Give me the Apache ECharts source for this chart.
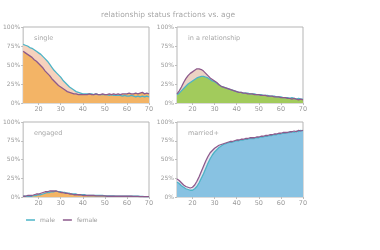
<!DOCTYPE html>
<html><head><meta charset="utf-8">
<script src="https://cdn.jsdelivr.net/npm/echarts@6/dist/echarts.min.js"></script>
<style>html,body{margin:0;padding:0;background:#fff}#c{width:380px;height:250px}</style>
</head><body><div id="c"></div>
<script>
const ages = [13,14,15,16,17,18,19,20,21,22,23,24,25,26,27,28,29,30,31,32,33,34,35,36,37,38,39,40,41,42,43,44,45,46,47,48,49,50,51,52,53,54,55,56,57,58,59,60,61,62,63,64,65,66,67,68,69,70];
const xTicks = [20,30,40,50,60,70];
const yTickLabels = ['0%','25%','50%','75%','100%'];
const panelTitles = ['single','in a relationship','engaged','married+'];

const singleMale   = [77,76,75,73,72,70,68,66,64,61,58,55,51,47,43,40,37,34,30,27,24,21,19,17,15,14,13,12,12,12,12,12,11,12,11,11,11,11,11,10,11,10,10,10,10,9,10,9,9,10,9,8,9,8,9,8,9,8];
const singleFemale = [68,66,64,62,60,57,55,52,49,46,42,39,36,32,29,26,23,21,19,17,15,14,13,12,12,11,11,11,11,11,12,11,11,12,11,11,12,11,11,12,11,12,11,12,11,12,12,12,13,12,12,13,12,13,14,12,13,12];
const relMale      = [11,13,16,19,22,25,27,29,31,33,34,35,35,34,33,31,29,28,26,24,22,21,20,19,18,17,16,15,14,14,13,13,13,12,12,12,11,11,11,10,10,10,9,9,9,8,8,8,7,7,7,6,7,6,5,6,5,5];
const relFemale    = [12,16,21,27,32,36,39,41,43,45,45,44,42,39,36,33,31,29,27,24,22,21,20,19,18,17,16,15,14,14,13,13,12,12,12,11,11,11,10,10,10,9,9,9,8,8,8,7,7,7,6,6,5,6,5,4,5,4];
const engMale      = [1,1,1,1,1,2,2,3,3,4,5,6,6,7,7,8,7,7,6,6,5,5,4,4,4,3,3,3,3,2,2,2,2,2,2,2,2,1.5,1.5,1.5,1.5,1.5,1,1,1,1,1,1,1,1,1,1,1,0.8,0.8,0.6,0.6,0.5];
const engFemale    = [1,1,2,2,2,3,4,4,5,6,7,7,8,8,8,8,7,6,6,5,5,4,4,3,3,3,3,2,2,2,2,2,2,1.5,1.5,1.5,1.5,1.5,1,1,1,1,1,1,1,1,1,1,1,1,0.8,0.8,0.8,0.6,0.6,0.5,0.5,0.5];
const marMale      = [20,18,15,13,11,10,9,9,11,14,19,25,31,38,45,51,56,60,63,66,68,70,71,72,73,73,74,75,75,76,76,77,77,78,78,78,79,79,80,80,81,81,82,82,83,83,84,84,85,85,86,86,87,86,88,87,89,88];
const marFemale    = [24,22,19,16,14,13,12,13,16,21,27,34,41,48,54,59,62,65,67,69,70,71,72,73,74,74,75,76,76,77,77,78,78,79,79,79,80,80,81,81,82,82,83,83,84,84,85,85,86,86,86,87,87,88,87,89,88,89];

const maleColor = '#4cb4c7';
const femaleColor = '#8d5a8c';
const fills = ['#f3b466','#a2cb5c','#f3b466','#88c2e2'];
const bandColors = ['#f6d2bd','#ecd3c4','#f6d2bd','#e8e4ee'];
const panels = [[singleMale,singleFemale],[relMale,relFemale],[engMale,engFemale],[marMale,marFemale]];
// which series (0 male, 1 female) is the upper curve in each panel
const upperIdx = [0,1,1,1];

const grids = [
  {left:23, top:27, width:126, height:76},
  {left:177, top:27, width:126, height:76},
  {left:23, top:122, width:126, height:75},
  {left:177, top:122, width:126, height:75}
];
const txt = '#9a9a9a';
const xAxis = [], yAxis = [], series = [], titles = [];
titles.push({text:'relationship status fractions vs. age', left:163, top:6, textAlign:'center',
  textStyle:{color:'#a8a8a8', fontSize:7.5, fontWeight:'normal', fontFamily:'DejaVu Sans'}});
grids.forEach((g,i)=>{
  g.show = true; g.borderColor = '#b5b5b5'; g.borderWidth = 1; g.backgroundColor = '#fff';
  xAxis.push({type:'value', gridIndex:i, min:13, max:70,
    axisLine:{show:false}, splitLine:{show:false},
    axisTick:{show:true, length:2, lineStyle:{color:'#bbb'}, customValues:xTicks},
    axisLabel:{color:txt, fontSize:6.5, margin:3, customValues:xTicks, fontFamily:'DejaVu Sans'}});
  yAxis.push({type:'value', gridIndex:i, min:0, max:100, interval:25,
    axisLine:{show:false}, splitLine:{show:false},
    axisTick:{show:true, length:2, lineStyle:{color:'#bbb'}},
    axisLabel:{color:txt, fontSize:6, margin:3, fontFamily:'DejaVu Sans',
      formatter:v=>yTickLabels[Math.round(v/25)]}});
  titles.push({text:panelTitles[i], left:g.left+6, top:g.top+3,
    textStyle:{color:'#a8a8a8', fontSize:6.5, fontWeight:'normal', fontFamily:'DejaVu Sans'}});
  const mk = arr => ages.map((a,k)=>[a, arr[k]]);
  const up = panels[i][upperIdx[i]], lo = panels[i][1-upperIdx[i]];
  series.push({type:'line', xAxisIndex:i, yAxisIndex:i, data:mk(up), symbol:'none', silent:true,
    lineStyle:{width:0}, areaStyle:{color:bandColors[i], opacity:1}, z:1});
  series.push({type:'line', xAxisIndex:i, yAxisIndex:i, data:mk(lo), symbol:'none', silent:true,
    lineStyle:{width:0}, areaStyle:{color:fills[i], opacity:1}, z:2});
  const [m,f] = panels[i];
  series.push({name:'male', type:'line', xAxisIndex:i, yAxisIndex:i, data:mk(m), symbol:'none',
    lineStyle:{width:1.3, color:maleColor}, itemStyle:{color:maleColor}, z:3});
  series.push({name:'female', type:'line', xAxisIndex:i, yAxisIndex:i, data:mk(f), symbol:'none',
    lineStyle:{width:1.3, color:femaleColor}, itemStyle:{color:femaleColor}, z:3});
});
const chart = echarts.init(document.getElementById('c'), null, {renderer:'canvas'});
chart.setOption({
  animation:false,
  backgroundColor:'#fff',
  title:titles,
  grid:grids, xAxis, yAxis, series,
  legend:{data:['male','female'], left:21, top:212, icon:'rect', itemWidth:9, itemHeight:1.5, itemGap:8,
    textStyle:{color:txt, fontSize:6, fontFamily:'DejaVu Sans'}}
});
</script></body></html>
